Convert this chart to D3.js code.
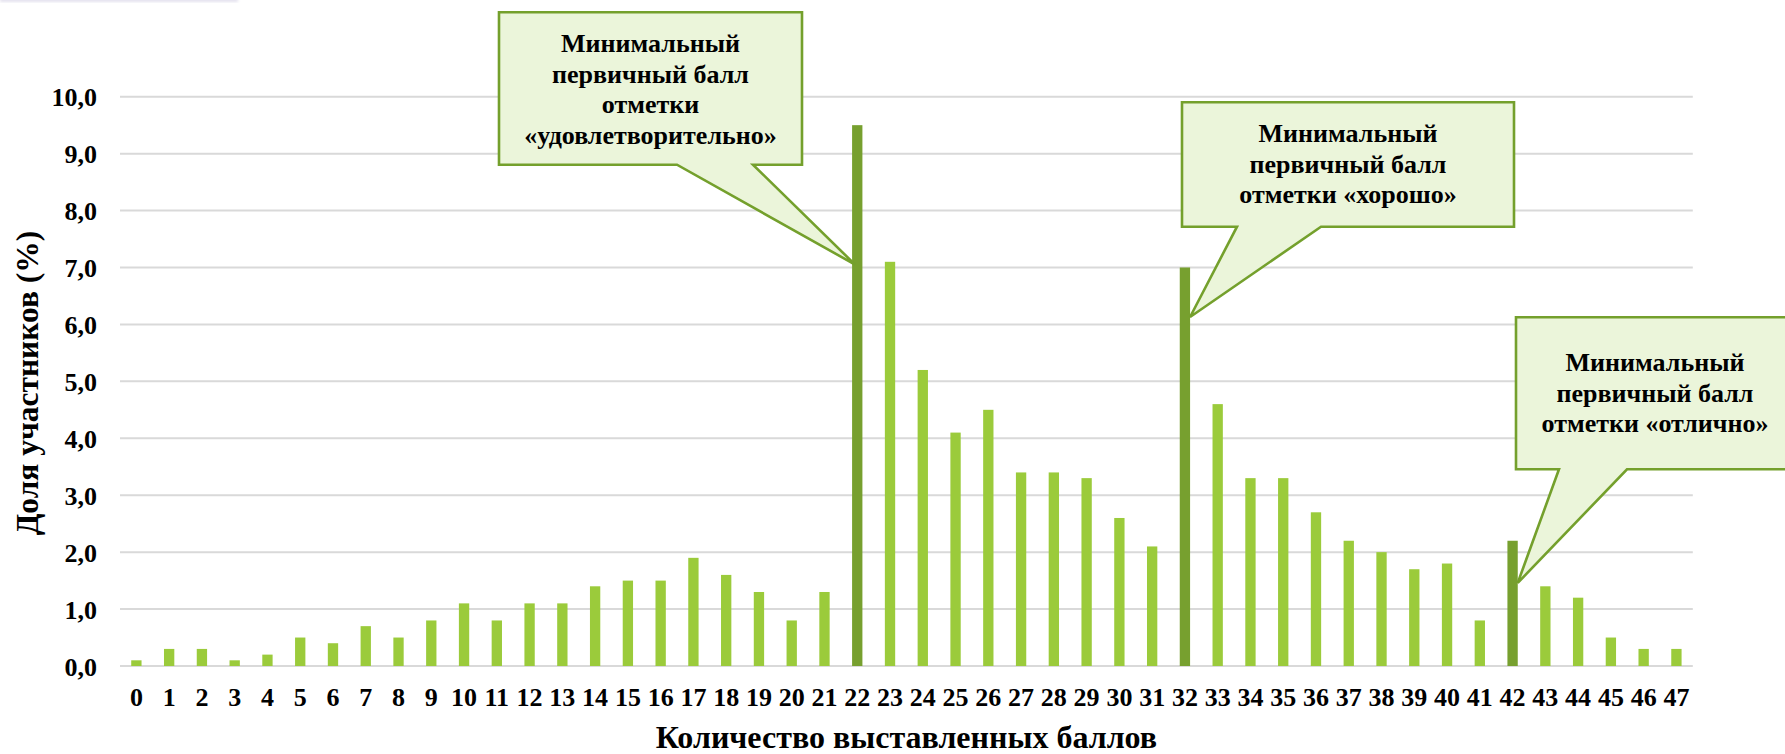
<!DOCTYPE html>
<html><head><meta charset="utf-8">
<script src="https://cdn.jsdelivr.net/npm/d3@7"></script>
<style>
html,body{margin:0;padding:0;background:#fff;}
svg{display:block;}
text{font-family:"Liberation Serif","Times New Roman",serif;font-weight:bold;fill:#000;}
</style></head>
<body><svg id="chart" width="1785" height="754"></svg>
<script>
// ---- data ----
const categories = d3.range(0, 48).map(String);
const shares = [0.1,0.3,0.3,0.1,0.2,0.5,0.4,0.7,0.5,0.8,1.1,0.8,1.1,1.1,1.4,1.5,1.5,1.9,1.6,1.3,0.8,1.3,
  9.5,7.1,5.2,4.1,4.5,3.4,3.4,3.3,2.6,2.1,7.0,4.6,3.3,3.3,2.7,2.2,2.0,1.7,1.8,0.8,2.2,1.4,1.2,0.5,0.3,0.3];
const thresholdCategories = ["22","32","42"];
const yTicks = [0,1,2,3,4,5,6,7,8,9,10];
const yTickLabels = ["0,0","1,0","2,0","3,0","4,0","5,0","6,0","7,0","8,0","9,0","10,0"];
const calloutLines = [
  ["Минимальный","первичный балл","отметки","«удовлетворительно»"],
  ["Минимальный","первичный балл","отметки «хорошо»"],
  ["Минимальный","первичный балл","отметки «отлично»"]
];
const calloutTipValues = [7.05, 6.13, 1.46];
const xTitle = "Количество выставленных баллов";
const yTitle = "Доля участников (%)";

// ---- layout ----
const svg = d3.select("#chart");
const plotL = 120, plotR = 1692.8, plotT = 96.7, plotB = 666;
const x = d3.scaleBand().domain(categories).range([plotL, plotR]).paddingInner(0.685).paddingOuter(0.3425);
const y = d3.scaleLinear().domain([0,10]).range([plotB, plotT]);

const LIGHT = "#9BCB3B", DARK = "#77A02F", BOX_FILL = "#EBF5DA", BOX_STROKE = "#74A02C";

// faint artifact top-left
const defs = svg.append("defs");
defs.append("filter").attr("id","blur").append("feGaussianBlur").attr("stdDeviation",1.5);
svg.append("rect").attr("x",0).attr("y",-3).attr("width",238).attr("height",5)
  .attr("fill","#e4e2ee").attr("filter","url(#blur)");

// gridlines
svg.append("g").selectAll("line").data(yTicks).join("line")
  .attr("x1", plotL).attr("x2", plotR)
  .attr("y1", d => y(d)).attr("y2", d => y(d))
  .attr("stroke", "#D9D9D9").attr("stroke-width", 2);

// y axis labels
const yAxis = d3.axisLeft(y).tickValues(yTicks).tickFormat((d,i) => yTickLabels[i]).tickSize(0).tickPadding(0);
const gy = svg.append("g").attr("transform", `translate(${97},0)`).call(yAxis);
gy.select(".domain").remove();
gy.selectAll("text").attr("font-size", 26).attr("font-family","Liberation Serif").attr("font-weight","bold").attr("fill","#000").attr("dy","0.35em");

// x axis labels
const xAxis = d3.axisBottom(x).tickSize(0).tickPadding(0);
const gx = svg.append("g").attr("transform", `translate(0,${plotB})`).call(xAxis);
gx.select(".domain").remove();
gx.selectAll("text").attr("font-size", 26).attr("font-family","Liberation Serif").attr("font-weight","bold").attr("fill","#000")
  .attr("dy", null).attr("y", 39.5);

// bars
svg.append("g").selectAll("rect").data(categories).join("rect")
  .attr("x", d => x(d))
  .attr("width", x.bandwidth())
  .attr("y", (d,i) => y(shares[i]))
  .attr("height", (d,i) => y(0) - y(shares[i]))
  .attr("fill", d => thresholdCategories.includes(d) ? DARK : LIGHT);

// callouts
const boxes = [
  {l:499, t:12.3, r:802, b:164.7, b1:677, b2:753, tipDx:3, first:51.7},
  {l:1182, t:102.3, r:1514, b:226.7, b1:1237, b2:1321, tipDx:x.bandwidth(), first:141.7},
  {l:1516, t:317.3, r:1796, b:469.3, b1:1559, b2:1627, tipDx:x.bandwidth(), first:370.7}
];
const lineStep = 30.8;
thresholdCategories.forEach((c, i) => {
  const bx = boxes[i];
  const tx = x(c) + bx.tipDx, ty = y(calloutTipValues[i]);
  const p = d3.path();
  p.moveTo(bx.l, bx.t); p.lineTo(bx.r, bx.t); p.lineTo(bx.r, bx.b);
  p.lineTo(bx.b2, bx.b); p.lineTo(tx, ty); p.lineTo(bx.b1, bx.b); p.lineTo(bx.l, bx.b); p.closePath();
  svg.append("path").attr("d", p.toString()).attr("fill", BOX_FILL)
    .attr("stroke", BOX_STROKE).attr("stroke-width", 2.6).attr("stroke-linejoin","miter");
  const cx = (bx.l + Math.min(bx.r, 1794)) / 2;
  svg.append("g").selectAll("text").data(calloutLines[i]).join("text")
    .attr("x", i === 2 ? 1655 : cx).attr("y", (d,j) => bx.first + j*lineStep)
    .attr("text-anchor","middle").attr("font-size", 26).text(d => d);
});

// axis titles
svg.append("text").attr("x", (plotL+plotR)/2).attr("y", 748).attr("text-anchor","middle")
  .attr("font-size", 32).text(xTitle);
svg.append("text").attr("transform", `translate(38,383) rotate(-90)`).attr("text-anchor","middle")
  .attr("font-size", 31.5).text(yTitle);
</script></body></html>
